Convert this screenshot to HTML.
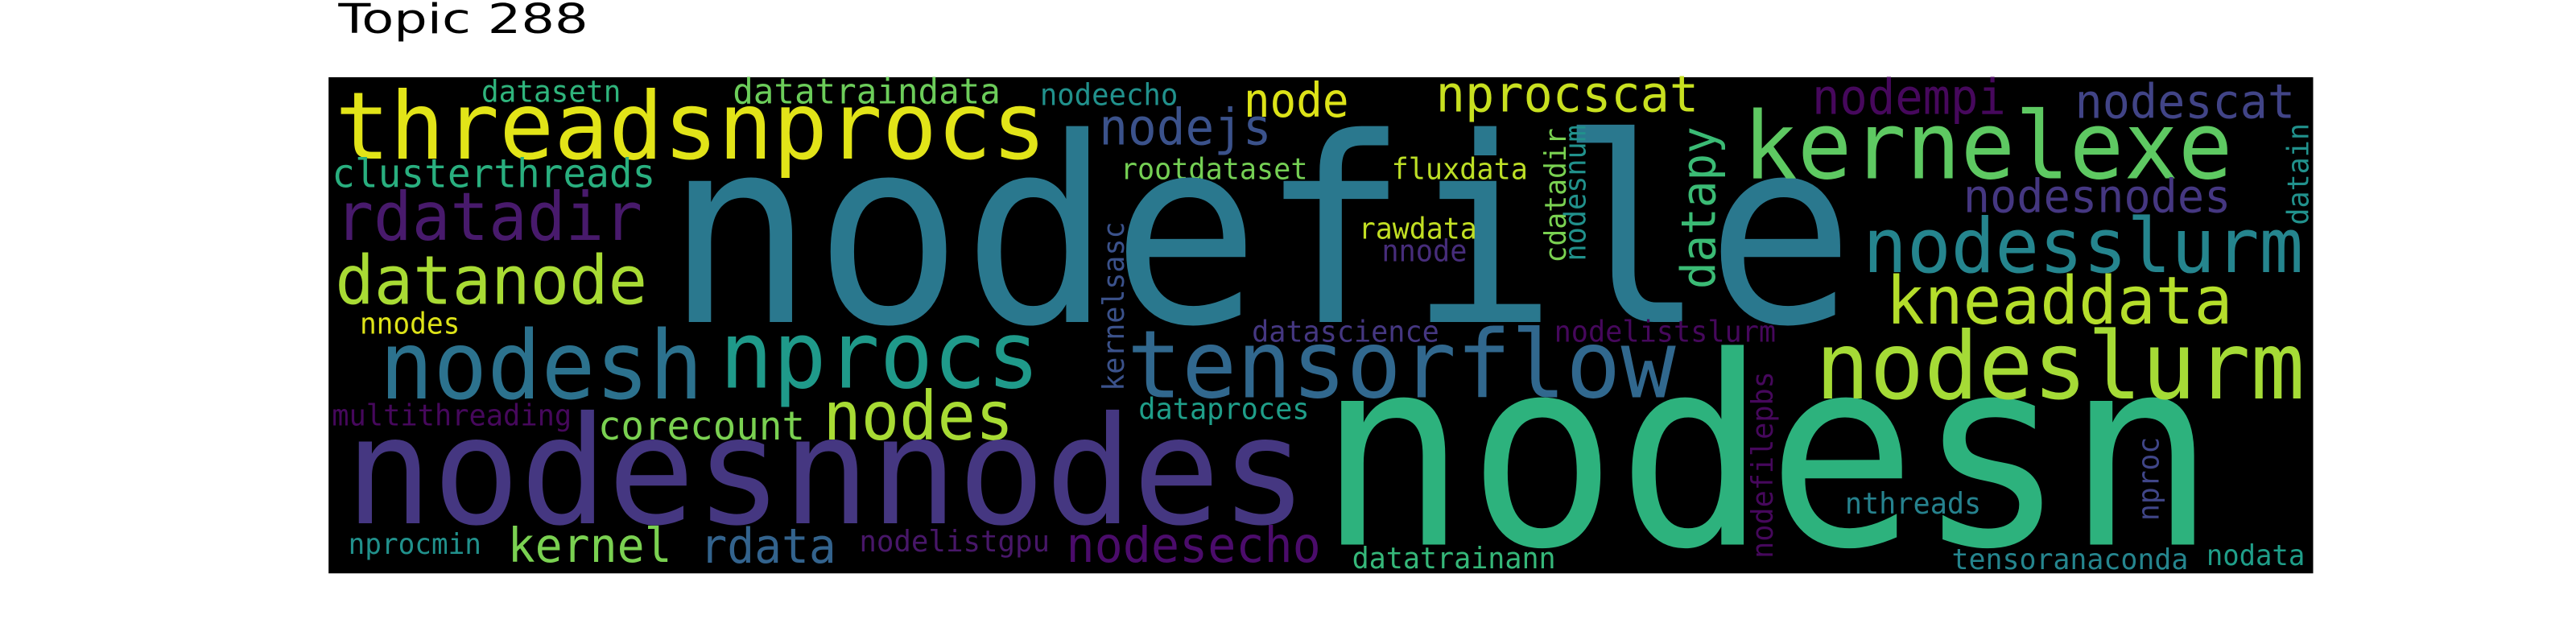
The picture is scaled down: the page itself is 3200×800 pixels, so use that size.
<!DOCTYPE html>
<html><head><meta charset="utf-8"><style>
html,body{margin:0;padding:0;background:#fff;}
svg{display:block;}
text{font-family:"DejaVu Sans Mono","Liberation Mono",monospace;}
</style></head><body>
<svg width="3200" height="800" viewBox="0 0 1568 392" xmlns="http://www.w3.org/2000/svg">
<rect x="0" y="0" width="1568" height="392" fill="#fff"/>
<text x="206" y="20" font-size="25" style="font-family:'DejaVu Sans','Liberation Sans',sans-serif" fill="#000" textLength="152" lengthAdjust="spacingAndGlyphs">Topic 288</text>
<rect x="200" y="47" width="1208" height="302" fill="#000"/>
<g lengthAdjust="spacingAndGlyphs">
<text x="204" y="96.5" font-size="56.8" fill="#e2e418" textLength="433" lengthAdjust="spacingAndGlyphs">threadsnprocs</text>
<text x="293" y="62" font-size="18.4" fill="#2fb47c" textLength="85" lengthAdjust="spacingAndGlyphs">datasetn</text>
<text x="446" y="63" font-size="21.4" fill="#6ccd5a" textLength="163" lengthAdjust="spacingAndGlyphs">datatraindata</text>
<text x="633" y="64" font-size="18.2" fill="#21918c" textLength="84" lengthAdjust="spacingAndGlyphs">nodeecho</text>
<text x="757" y="71" font-size="28.8" fill="#dde318" textLength="64" lengthAdjust="spacingAndGlyphs">node</text>
<text x="669" y="88" font-size="30.7" fill="#3b528b" textLength="105" lengthAdjust="spacingAndGlyphs">nodejs</text>
<text x="202" y="114" font-size="24" fill="#29af7f" textLength="197" lengthAdjust="spacingAndGlyphs">clusterthreads</text>
<text x="682" y="109" font-size="17.8" fill="#75d054" textLength="114" lengthAdjust="spacingAndGlyphs">rootdataset</text>
<text x="204" y="146" font-size="40.5" fill="#481a6c" textLength="187" lengthAdjust="spacingAndGlyphs">rdatadir</text>
<text x="204" y="185" font-size="41" fill="#a8db34" textLength="190" lengthAdjust="spacingAndGlyphs">datanode</text>
<text x="405" y="196" font-size="157" fill="#2a788e" textLength="724" lengthAdjust="spacingAndGlyphs">nodefile</text>
<text x="219" y="203" font-size="17.8" fill="#dde318" textLength="61" lengthAdjust="spacingAndGlyphs">nnodes</text>
<text x="231" y="242.6" font-size="57.6" fill="#2c728e" textLength="197" lengthAdjust="spacingAndGlyphs">nodesh</text>
<text x="438" y="236" font-size="57" fill="#1f9a8a" textLength="195" lengthAdjust="spacingAndGlyphs">nprocs</text>
<text x="501" y="267.5" font-size="41" fill="#a8db34" textLength="116" lengthAdjust="spacingAndGlyphs">nodes</text>
<text x="364" y="267.5" font-size="24" fill="#7ad151" textLength="126" lengthAdjust="spacingAndGlyphs">corecount</text>
<text x="202" y="259" font-size="17.8" fill="#46085c" textLength="146" lengthAdjust="spacingAndGlyphs">multithreading</text>
<text x="210" y="318.5" font-size="91" fill="#453781" textLength="586" lengthAdjust="spacingAndGlyphs">nodesnnodes</text>
<text x="212" y="337" font-size="17.6" fill="#21918c" textLength="81" lengthAdjust="spacingAndGlyphs">nprocmin</text>
<text x="309" y="342" font-size="29" fill="#7ad151" textLength="100" lengthAdjust="spacingAndGlyphs">kernel</text>
<text x="426" y="342.6" font-size="29.4" fill="#33638d" textLength="83" lengthAdjust="spacingAndGlyphs">rdata</text>
<text x="523" y="335.7" font-size="18" fill="#481769" textLength="116" lengthAdjust="spacingAndGlyphs">nodelistgpu</text>
<text x="649" y="342" font-size="29.7" fill="#4b0c6b" textLength="155" lengthAdjust="spacingAndGlyphs">nodesecho</text>
<text x="686" y="241.7" font-size="57.4" fill="#31688e" textLength="334" lengthAdjust="spacingAndGlyphs">tensorflow</text>
<text transform="translate(684,238) rotate(-90)" x="0" y="0" font-size="17.7" fill="#3b528b" textLength="103" lengthAdjust="spacingAndGlyphs">kernelsasc</text>
<text x="762" y="208" font-size="17.8" fill="#453781" textLength="114" lengthAdjust="spacingAndGlyphs">datascience</text>
<text x="946" y="208" font-size="17.8" fill="#46085c" textLength="135" lengthAdjust="spacingAndGlyphs">nodelistslurm</text>
<text x="693" y="255" font-size="17.9" fill="#1f9e89" textLength="104" lengthAdjust="spacingAndGlyphs">dataproces</text>
<text x="802" y="331.5" font-size="160" fill="#2db27d" textLength="547" lengthAdjust="spacingAndGlyphs">nodesn</text>
<text x="1105" y="242.6" font-size="57" fill="#a5db36" textLength="298" lengthAdjust="spacingAndGlyphs">nodeslurm</text>
<text transform="translate(1079,340) rotate(-90)" x="0" y="0" font-size="17.8" fill="#46085c" textLength="114" lengthAdjust="spacingAndGlyphs">nodefilepbs</text>
<text x="1123" y="312.6" font-size="18" fill="#26828e" textLength="83" lengthAdjust="spacingAndGlyphs">nthreads</text>
<text transform="translate(1314,317) rotate(-90)" x="0" y="0" font-size="18" fill="#404688" textLength="51" lengthAdjust="spacingAndGlyphs">nproc</text>
<text x="823" y="346" font-size="17.7" fill="#35b779" textLength="124" lengthAdjust="spacingAndGlyphs">datatrainann</text>
<text x="1188" y="346.5" font-size="17.5" fill="#25858e" textLength="144" lengthAdjust="spacingAndGlyphs">tensoranaconda</text>
<text x="1343" y="344" font-size="17.6" fill="#1f9e89" textLength="60" lengthAdjust="spacingAndGlyphs">nodata</text>
<text x="874" y="67.8" font-size="30.7" fill="#c8e020" textLength="160" lengthAdjust="spacingAndGlyphs">nprocscat</text>
<text x="1103" y="69.4" font-size="29.5" fill="#46085c" textLength="118" lengthAdjust="spacingAndGlyphs">nodempi</text>
<text x="1263" y="71.8" font-size="29" fill="#414487" textLength="134" lengthAdjust="spacingAndGlyphs">nodescat</text>
<text x="1061" y="108.6" font-size="57" fill="#5ec962" textLength="298" lengthAdjust="spacingAndGlyphs">kernelexe</text>
<text transform="translate(1044,176) rotate(-90)" x="0" y="0" font-size="29" fill="#3bbb75" textLength="99" lengthAdjust="spacingAndGlyphs">datapy</text>
<text x="1195" y="129" font-size="28" fill="#453781" textLength="163" lengthAdjust="spacingAndGlyphs">nodesnodes</text>
<text x="1134" y="165.7" font-size="46" fill="#25858e" textLength="268" lengthAdjust="spacingAndGlyphs">nodesslurm</text>
<text x="1148" y="197" font-size="40" fill="#b5de2b" textLength="211" lengthAdjust="spacingAndGlyphs">kneaddata</text>
<text transform="translate(1405,137) rotate(-90)" x="0" y="0" font-size="18" fill="#21918c" textLength="62" lengthAdjust="spacingAndGlyphs">datain</text>
<text x="847" y="109" font-size="18" fill="#bddf26" textLength="83" lengthAdjust="spacingAndGlyphs">fluxdata</text>
<text transform="translate(953,160) rotate(-90)" x="0" y="0" font-size="17.7" fill="#7ad151" textLength="82" lengthAdjust="spacingAndGlyphs">cdatadir</text>
<text transform="translate(965,159) rotate(-90)" x="0" y="0" font-size="18" fill="#21918c" textLength="83" lengthAdjust="spacingAndGlyphs">nodesnum</text>
<text x="827" y="145.4" font-size="17.9" fill="#c2df23" textLength="72" lengthAdjust="spacingAndGlyphs">rawdata</text>
<text x="841" y="159" font-size="18.4" fill="#472d7b" textLength="52" lengthAdjust="spacingAndGlyphs">nnode</text>
</g>
</svg>
</body></html>
